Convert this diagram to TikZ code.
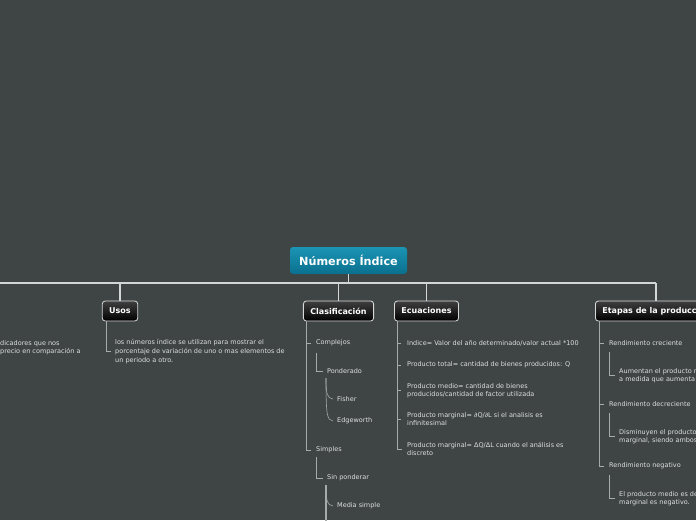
\documentclass[tikz,border=0pt]{standalone}
\usepackage{fontspec}
\setmainfont{DejaVu Sans}
\definecolor{bg}{RGB}{63,68,68}
\definecolor{txt}{RGB}{222,224,224}
\definecolor{conn}{RGB}{165,170,170}
\definecolor{mainln}{RGB}{212,214,214}
\definecolor{teala}{RGB}{28,148,180}
\definecolor{tealb}{RGB}{10,112,142}
\tikzset{
  topic/.style={draw=mainln!90!white, line width=0.8pt, rounded corners=3pt, top color=black!75!white, bottom color=black, text=white, font=\fontsize{8}{9}\selectfont\bfseries, minimum height=20pt, inner xsep=7pt, inner ysep=0pt},
  leaf/.style={anchor=west, inner sep=0pt, text=txt, align=left, font=\fontsize{6.5}{8.6}\selectfont},
  link/.style={draw=conn, line width=0.6pt},
  bigline/.style={draw=mainln, line width=1.4pt},
}
\begin{document}
\begin{tikzpicture}[x=1pt,y=-1pt]
\useasboundingbox (0,0) rectangle (696,520);
\fill[bg] (0,0) rectangle (696,520);
\clip (0,0) rectangle (696,520);

% title
\node[rounded corners=3pt, top color=teala, bottom color=tealb, text=white, font=\fontsize{11.2}{13}\selectfont\bfseries, minimum width=117pt, minimum height=27pt, inner sep=0pt] (title) at (348.5,260.5) {Números Índice};

% main topics
\node[topic] (usos) at (120,311) {Usos};
\node[topic] (clas) at (338.5,311) {Clasificación};
\node[topic] (ecu) at (426.5,311) {Ecuaciones};
\node[topic, anchor=west] (etapas) at (595,311) {Etapas de la producción};

\coordinate (lineL) at (-5,283);
\coordinate (lineR) at (656,283);
\draw[bigline] (lineL) -- (lineR);
\draw[bigline] (title.south) -- (title.south |- lineL);
\draw[bigline] (usos.north) -- (usos.north |- lineL);
\draw[bigline] (clas.north) -- (clas.north |- lineL);
\draw[bigline] (ecu.north) -- (ecu.north |- lineL);
\draw[bigline] (etapas.north -| lineR) -- (lineR);

% left cut text
\node[leaf] (lefttext) at (0,347.5) {dicadores que nos\\precio en comparación a};

% Usos
\node[leaf] (usostext) at (115,351.5) {los números índice se utilizan para mostrar el\\porcentaje de variación de uno o mas elementos de\\un periodo a otro.};
\draw[link] ([xshift=4pt]usos.south west) |- ([xshift=-4pt]usostext.west);

% Clasificacion
\node[leaf] (comp) at (316,343) {Complejos};
\node[leaf] (pond) at (327,371) {Ponderado};
\node[leaf] (fish) at (337,399) {Fisher};
\node[leaf] (edge) at (337,421) {Edgeworth};
\node[leaf] (simp) at (316,450) {Simples};
\node[leaf] (sinp) at (327,478) {Sin ponderar};
\node[leaf] (media) at (337,506) {Media simple};
\coordinate (cspine) at (306,321);
\draw[link] (cspine) |- ([xshift=-5pt]simp.west);
\draw[link] (cspine |- comp.west) -- ([xshift=-5pt]comp.west);
\coordinate (compb) at (316,353);
\draw[link] (compb) |- ([xshift=-4pt]pond.west);
\coordinate (pondb) at (326,378);
\draw[link] (pondb) .. controls (326,394) and (327,398) .. ([xshift=-4pt]fish.west);
\draw[link] (pondb) .. controls (326,416) and (327,420) .. ([xshift=-4pt]edge.west);
\coordinate (simpb) at (316,457);
\draw[link] (simpb) |- ([xshift=-4pt]sinp.west);
\coordinate (sinpb) at (326,485);
\draw[link] (sinpb) .. controls (326,501) and (327,505) .. ([xshift=-4pt]media.west);
\draw[link, line width=1.3pt] (sinpb) -- (326,530);

% Ecuaciones
\node[leaf] (e1) at (407,343) {Indice= Valor del año determinado/valor actual *100};
\node[leaf] (e2) at (407,365) {Producto total= cantidad de bienes producidos: Q};
\node[leaf] (e3) at (407,390.5) {Producto medio= cantidad de bienes\\producidos/cantidad de factor utilizada};
\node[leaf] (e4) at (407,419) {Producto marginal= ∂Q/∂L si el analisis es\\infinitesimal};
\node[leaf] (e5) at (407,449) {Producto marginal= ΔQ/ΔL cuando el análisis es\\discreto};
\coordinate (espine) at (397,321);
\draw[link] (espine) |- ([xshift=-5pt]e5.west);
\foreach \n in {e1,e2,e3,e4}{\draw[link] (espine |- \n.west) -- ([xshift=-6pt]\n.west);}

% Etapas
\node[leaf] (r1) at (609,343) {Rendimiento creciente};
\node[leaf] (r1a) at (619,375.5) {Aumentan el producto medio y marginal\\a medida que aumenta el factor variable};
\node[leaf] (r2) at (609,404) {Rendimiento decreciente};
\node[leaf] (r2a) at (619,436.5) {Disminuyen el producto medio y el\\marginal, siendo ambos positivos};
\node[leaf] (r3) at (609,466) {Rendimiento negativo};
\node[leaf] (r3a) at (619,498.5) {El producto medio es decreciente y el\\marginal es negativo.};
\coordinate (rspine) at (599,321);
\draw[link] (rspine) |- ([xshift=-5pt]r3.west);
\foreach \n in {r1,r2}{\draw[link] (rspine |- \n.west) -- ([xshift=-5pt]\n.west);}
\foreach \a/\b in {r1/r1a,r2/r2a,r3/r3a}{\draw[link] ([yshift=-9pt]\a.west) |- ([xshift=-4pt]\b.west);}
\end{tikzpicture}
\end{document}
